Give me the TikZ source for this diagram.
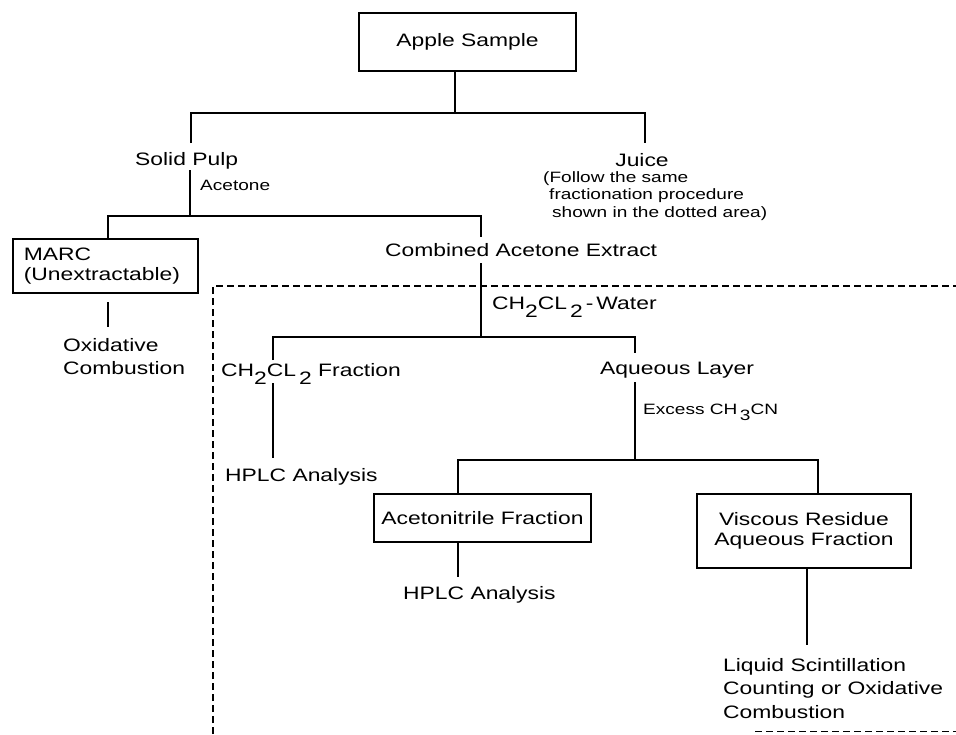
\documentclass[tikz,border=0pt]{standalone}
\usepackage{fontspec}
\setmainfont{Liberation Sans}[FakeStretch=1.27]
\newcommand{\lowd}[1]{\raisebox{-0.45em}{#1}}
\newcommand{\mainsz}{\fontsize{18}{20}\selectfont}
\newcommand{\smallsz}{\fontsize{15}{17.5}\selectfont}
\begin{document}
\begin{tikzpicture}[x=1pt,y=-1pt,
  every node/.style={inner sep=0pt, font=\mainsz},
  conn/.style={line width=1.6pt},
  boxnode/.style={draw, line width=1.6pt, inner sep=0pt},
  note/.style={font=\smallsz},
  dashbox/.style={line width=1.6pt, dash pattern=on 7pt off 4pt}]
\useasboundingbox (0,0) rectangle (956,734);

% nodes
\node[boxnode, minimum width=217pt, minimum height=58pt] (apple) at (467.5,42) {Apple Sample};
\node[anchor=base west] (pulp) at (135,165) {Solid Pulp};
\node[anchor=base] (juice) at (642,166) {Juice};
\node[note, anchor=base west, align=left] (juicenote) at (543,217)
  {(Follow the same\\\hspace*{6pt}fractionation procedure\\\hspace*{9pt}shown in the dotted area)};
\node[note, anchor=base west] (acetone) at (200,190) {Acetone};
\node[boxnode, anchor=north west, minimum width=185pt, minimum height=54pt,
      text width=163pt, align=left] (marc) at (12,238) {MARC\\(Unextractable)};
\node[anchor=base west, align=left, font=\fontsize{18}{23}\selectfont] (oxid) at (63,374.5)
  {Oxidative\\Combustion};
\node[anchor=base west] (combined) at (385,256.5) {Combined Acetone Extract};
\node[anchor=base west] (water) at (492,309) {CH\lowd{2}CL\,\lowd{2}\,-\,Water};
\node[anchor=base west] (dcmfrac) at (221,376) {CH\lowd{2}CL\,\lowd{2} Fraction};
\node[anchor=base west] (aqueous) at (600,374) {Aqueous Layer};
\node[note, anchor=base west] (excess) at (643,414) {Excess CH\,\lowd{3}CN};
\node[anchor=base west] (hplca) at (225,481) {HPLC Analysis};
\node[boxnode, minimum width=217pt, minimum height=48pt] (acn) at (482.5,518) {Acetonitrile Fraction};
\node[anchor=base west] (hplcb) at (403,599) {HPLC Analysis};
\node[boxnode, minimum width=214pt, minimum height=74pt, align=center] (visc) at (804,531)
  {Viscous Residue\\Aqueous Fraction};
\node[anchor=base west, align=left, font=\fontsize{18}{23.5}\selectfont] (lsc) at (723,718)
  {Liquid Scintillation\\Counting or Oxidative\\Combustion};

% connectors
\coordinate (jA) at (455,113);
\coordinate (jAl) at (191,113);
\coordinate (jAr) at (645,113);
\coordinate (pulpIn) at (191,143);
\coordinate (juiceIn) at (645,143);
\draw[conn] (apple.south -| jA) -- (jA);
\draw[conn] (pulpIn) -- (jAl) -- (jAr) -- (juiceIn);

\coordinate (pulpOut) at (190,170);
\coordinate (jB) at (190,216);
\coordinate (jBl) at (108,216);
\coordinate (jBr) at (481,216);
\coordinate (combIn) at (481,237);
\draw[conn] (pulpOut) -- (jB);
\draw[conn] (marc.north -| jBl) -- (jBl) -- (jBr) -- (combIn);

\coordinate (marcOut) at (108,302);
\coordinate (oxidIn) at (108,327);
\draw[conn] (marcOut) -- (oxidIn);

\coordinate (combOut) at (481,263);
\coordinate (jC) at (481,337);
\coordinate (jCl) at (273,337);
\coordinate (jCr) at (635,337);
\coordinate (dcmIn) at (273,360);
\coordinate (aqIn) at (635,353);
\draw[conn] (combOut) -- (jC);
\draw[conn] (dcmIn) -- (jCl) -- (jCr) -- (aqIn);

\coordinate (dcmOut) at (273,383);
\coordinate (hplcaIn) at (273,458);
\draw[conn] (dcmOut) -- (hplcaIn);

\coordinate (aqOut) at (635,382);
\coordinate (jD) at (635,460);
\coordinate (jDl) at (458,460);
\coordinate (jDr) at (818,460);
\draw[conn] (aqOut) -- (jD);
\draw[conn] (acn.north -| jDl) -- (jDl) -- (jDr) -- (visc.north -| jDr);

\coordinate (hplcbIn) at (458,577);
\draw[conn] (acn.south -| hplcbIn) -- (hplcbIn);
\coordinate (lscIn) at (807,645);
\draw[conn] (visc.south -| lscIn) -- (lscIn);

% dotted area
\coordinate (dA) at (213,734);
\coordinate (dB) at (213,286);
\coordinate (dC) at (956,286);
\draw[dashbox] (dA) -- (dB) -- (dC);
\coordinate (dD) at (755,731);
\coordinate (dE) at (956,731);
\draw[dashbox, line width=1pt] (dD) -- (dE);
\end{tikzpicture}
\end{document}
